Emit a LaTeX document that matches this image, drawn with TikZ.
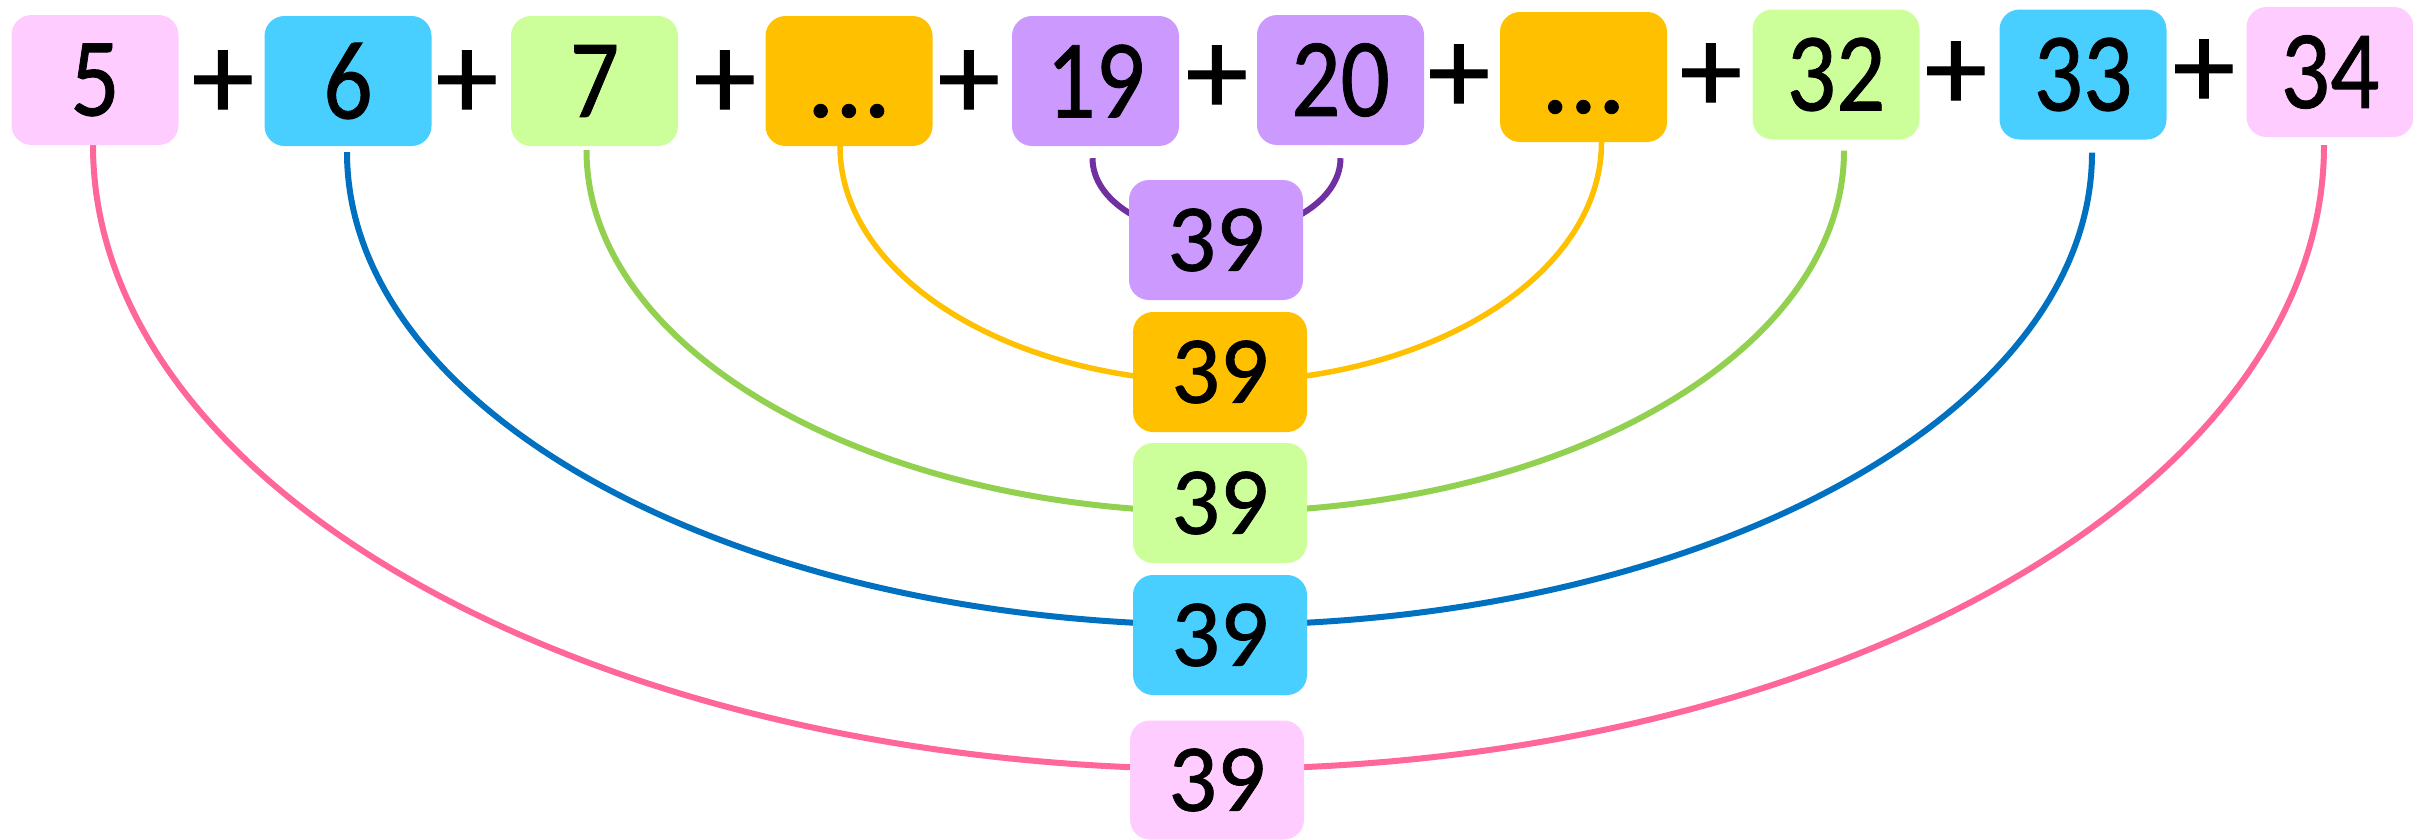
\documentclass[tikz,border=0pt]{standalone}
\usepackage{fontspec}
\setmainfont{Carlito}[FakeBold=0.8]
\pgfdeclarelayer{bg}
\pgfsetlayers{bg,main}
\definecolor{pkbox}{HTML}{FFCCFF}
\definecolor{blbox}{HTML}{48CFFF}
\definecolor{grbox}{HTML}{CCFF99}
\definecolor{ylbox}{HTML}{FFC000}
\definecolor{pubox}{HTML}{CC99FF}
\definecolor{pkline}{HTML}{FF6699}
\definecolor{blline}{HTML}{0070C0}
\definecolor{grline}{HTML}{92D050}
\definecolor{ylline}{HTML}{FFC000}
\definecolor{puline}{HTML}{7030A0}
\begin{document}
\begin{tikzpicture}[x=1pt,y=-1pt,
  box/.style={rectangle, rounded corners=20pt, inner sep=0pt, minimum width=167pt, minimum height=130pt, text=black, font=\fontsize{112}{112}\selectfont},
  res/.style={rectangle, rounded corners=20pt, inner sep=0pt, minimum width=174pt, minimum height=120pt, text=black, font=\fontsize{96}{96}\selectfont},
  plus/.style={inner sep=0pt, font=\fontsize{125}{125}\selectfont},
  link/.style={line width=6pt},
]
\useasboundingbox (0,0) rectangle (2413,839);
% top row
\node[box, fill=pkbox] (n5) at (95,80) {\scalebox{0.87}[1]{5}};
\node[plus] (p1) at (223,85) {+};
\node[box, fill=blbox] (n6) at (348,81) {\scalebox{0.87}[1]{6}};
\node[plus] (p2) at (467,85) {+};
\node[box, fill=grbox] (n7) at (594.5,81) {\scalebox{0.87}[1]{7}};
\node[plus] (p3) at (725,85) {+};
\node[box, fill=ylbox] (d1) at (849,81) {\vphantom{0}...};
\node[plus] (p4) at (969,85) {+};
\node[box, fill=pubox] (n19) at (1095.5,81) {\scalebox{0.87}[1]{19}};
\node[plus] (p5) at (1217,80) {+};
\node[box, fill=pubox] (n20) at (1340.5,80) {\scalebox{0.87}[1]{20}};
\node[plus] (p6) at (1459,79) {+};
\node[box, fill=ylbox] (d2) at (1583.5,77) {\vphantom{0}...};
\node[plus] (p7) at (1711,78) {+};
\node[box, fill=grbox] (n32) at (1836,74.5) {\scalebox{0.87}[1]{32}};
\node[plus] (p8) at (1956,76) {+};
\node[box, fill=blbox] (n33) at (2083,74.5) {\scalebox{0.87}[1]{33}};
\node[plus] (p9) at (2204,74) {+};
\node[box, fill=pkbox] (n34) at (2330,72) {\scalebox{0.87}[1]{34}};
% result boxes
\node[res, fill=pubox] (r19) at (1216,240) {39};
\node[res, fill=ylbox] (rd) at (1220,372) {39};
\node[res, fill=grbox] (r7) at (1220,503) {39};
\node[res, fill=blbox] (r6) at (1220,635) {39};
\node[res, fill=pkbox, minimum height=119pt] (r5) at (1217,780) {39};
% connectors
\begin{pgfonlayer}{bg}
\draw[link, puline] ([xshift=-3pt,yshift=-12pt]n19.south) .. controls +(0,43) and +(-68,0) .. ([yshift=5pt]r19.center)
  .. controls +(68,0) and +(0,43) .. ([yshift=-13pt]n20.south);
\draw[link, ylline, line width=5.5pt] ([xshift=-9pt]d1.south) .. controls +(0,130) and +(-210,0) .. ([yshift=-10pt]rd.center)
  .. controls +(210,0) and +(0,133) .. ([xshift=18pt]d2.south);
\draw[link, grline] ([xshift=-8pt,yshift=-4pt]n7.south) .. controls +(0,200) and +(-350,0) .. ([yshift=-9pt]r7.center)
  .. controls +(345,0) and +(0,200) .. ([xshift=8pt,yshift=-11pt]n32.south);
\draw[link, blline] ([xshift=-1pt,yshift=-6pt]n6.south) .. controls +(0,261) and +(-482,0) .. ([yshift=10pt]r6.center)
  .. controls +(482,0) and +(0,261) .. ([xshift=9pt,yshift=-13pt]n33.south);
\draw[link, pkline] ([xshift=-2pt]n5.south) .. controls +(0,345) and +(-621,0) .. ([yshift=11pt]r5.center)
  .. controls +(611,0) and +(0,345) .. ([xshift=-6pt,yshift=-8pt]n34.south);
\end{pgfonlayer}
\end{tikzpicture}
\end{document}
